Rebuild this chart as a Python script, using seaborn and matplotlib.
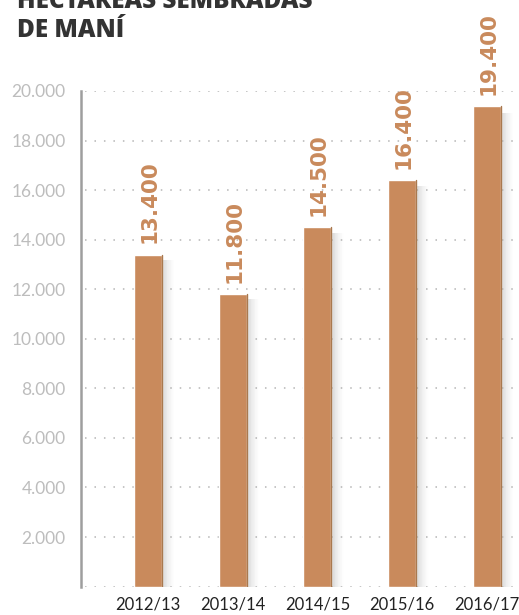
import matplotlib
matplotlib.use("Agg")
import matplotlib.pyplot as plt
from matplotlib.patches import Rectangle
import seaborn as sns
import pandas as pd

# Hectares of peanut sown per campaign
campaigns = ["2012/13", "2013/14", "2014/15", "2015/16", "2016/17"]
hectares = [13400, 11800, 14500, 16400, 19400]
value_labels = ["13.400", "11.800", "14.500", "16.400", "19.400"]
y_ticks = [2000, 4000, 6000, 8000, 10000, 12000, 14000, 16000, 18000, 20000]
y_tick_labels = ["2.000", "4.000", "6.000", "8.000", "10.000",
                 "12.000", "14.000", "16.000", "18.000", "20.000"]
title_lines = ["HECTÁREAS SEMBRADAS", "DE MANÍ"]

BAR = "#C98A5C"
BAR_EDGE = "#A9794F"

sns.set_theme(style="white")
plt.rcParams["font.family"] = ["Lato", "DejaVu Sans"]

df = pd.DataFrame({"campaign": campaigns, "hectares": hectares})

fig = plt.figure(figsize=(5.19, 6.15), dpi=100)
ax = fig.add_axes([81 / 519, 1 - 586.6 / 615, 1 - 81 / 519, (586.6 - 91) / 615])

sns.barplot(data=df, x="campaign", y="hectares", color=BAR, saturation=1,
            width=0.33, ax=ax, zorder=3)

# soft drop shadow to the right of each bar
for p in list(ax.patches):
    x0 = p.get_x() + p.get_width()
    h = p.get_height()
    w = p.get_width()
    steps = 16
    sw = w * 0.028
    for k in range(steps):
        ax.add_patch(Rectangle((x0 + k * sw, 0), sw, h * 0.985,
                               facecolor="#7a7a7a",
                               alpha=0.30 * (1 - k / steps) ** 1.5,
                               linewidth=0, zorder=2))
    # darker right edge line
    ax.plot([x0, x0], [0, h], color=BAR_EDGE, lw=1.0, zorder=4)

# value labels written vertically above the bars
for i, (v, lab) in enumerate(zip(hectares, value_labels)):
    ax.annotate(lab, (i, v), xytext=(1, 8), textcoords="offset points",
                rotation=90, ha="center", va="bottom", color=BAR,
                fontsize=15.5, fontweight="bold",
                family=["DejaVu Sans"], annotation_clip=False, zorder=5)

ax.set_xlim(-0.79, 4.378)
ax.set_ylim(0, 20000)
ax.set_yticks(y_ticks)
ax.set_yticklabels(y_tick_labels, color="#BDBDBD", fontsize=12.5,
                   fontweight="normal")
ax.tick_params(axis="y", length=0, pad=11)
ax.tick_params(axis="x", length=0, pad=7, labelsize=12, colors="#222222")
ax.set_xlabel("")
ax.set_ylabel("")

# dotted horizontal gridlines
for yv in [0] + y_ticks:
    ax.axhline(yv, xmin=0.01, xmax=1, color="#B5B5B5", lw=1.1,
               linestyle=(0, (1, 5.2)), zorder=1)

for s in ["top", "right", "bottom"]:
    ax.spines[s].set_visible(False)
ax.spines["left"].set_color("#9E9E9E")
ax.spines["left"].set_linewidth(1.8)

# heading
for txt, base in zip(title_lines, [8, 37]):
    fig.text(17 / 519, 1 - base / 615, txt, fontsize=17.5, fontweight="heavy",
             color="#333333", family=["Open Sans", "DejaVu Sans"], va="baseline")

fig.savefig("out.png", dpi=100)
